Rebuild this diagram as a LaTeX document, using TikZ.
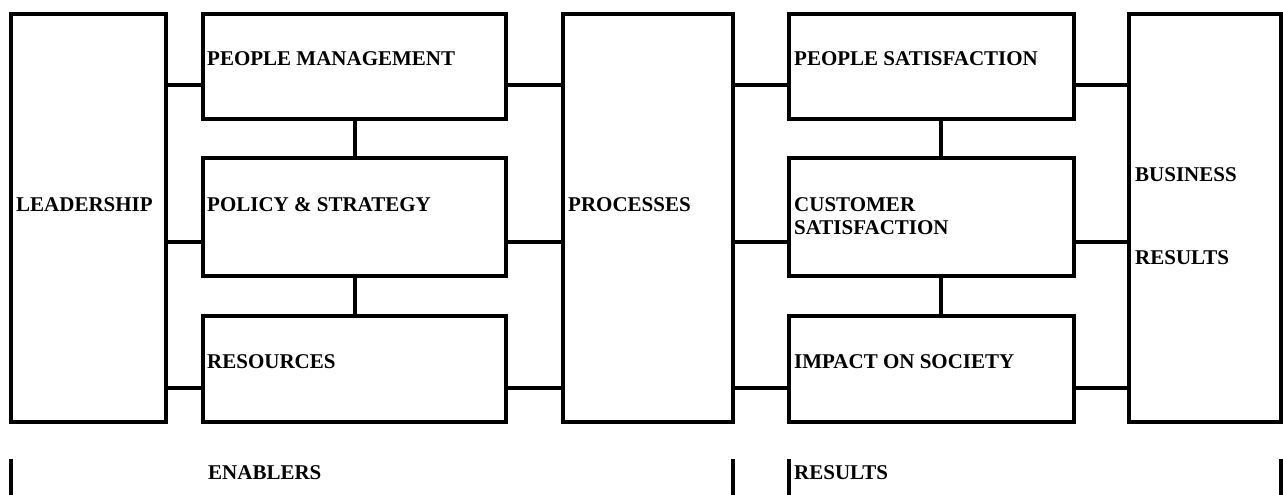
\documentclass[tikz,border=0pt]{standalone}
\usepackage{fontspec}
\setmainfont{Liberation Serif}
\begin{document}
\begin{tikzpicture}[x=1pt,y=-1pt,
  box/.style={draw=black, line width=4pt, rectangle, inner sep=0pt, outer sep=0pt, anchor=north west},
  lbl/.style={anchor=base west, inner sep=0pt, font=\fontsize{21}{23.5}\selectfont\bfseries, align=left},
  wire/.style={line width=4pt, black},
  bar/.style={line width=4pt, black}]
\useasboundingbox (0,0) rectangle (1283,495);
% boxes
\node[box, minimum width=155, minimum height=408] (lead) at (11,14) {};
\node[box, minimum width=303, minimum height=105] (pm)  at (203,14) {};
\node[box, minimum width=303, minimum height=118] (pol) at (203,158) {};
\node[box, minimum width=303, minimum height=106] (res) at (203,316) {};
\node[box, minimum width=170, minimum height=408] (proc) at (563,14) {};
\node[box, minimum width=285, minimum height=105] (ps)  at (789,14) {};
\node[box, minimum width=285, minimum height=118] (cs)  at (789,158) {};
\node[box, minimum width=285, minimum height=106] (ios) at (789,316) {};
\node[box, minimum width=152, minimum height=408] (br)  at (1129,14) {};
% labels
\node[lbl] (tlead) at (16,211) {LEADERSHIP};
\node[lbl] (tpm)   at (207,66) {PEOPLE MANAGEMENT};
\node[lbl] (tpol)  at (207,211) {POLICY \& STRATEGY};
\node[lbl] (tres)  at (207,368) {RESOURCES};
\node[lbl] (tproc) at (568,211) {PROCESSES};
\node[lbl] (tps)   at (794,66) {PEOPLE SATISFACTION};
\node[lbl] (tcs1)  at (794,211) {CUSTOMER};
\node[lbl] (tcs2)  at (794,234) {SATISFACTION};
\node[lbl] (tios)  at (794,368) {IMPACT ON SOCIETY};
\node[lbl] (tbr1)  at (1135,181) {BUSINESS};
\node[lbl] (tbr2)  at (1135,264) {RESULTS};
\node[lbl] (tena)  at (208,479) {ENABLERS};
\node[lbl] (tresu) at (794,479) {RESULTS};
% row levels and column positions
\coordinate (r1) at (0,85);
\coordinate (r2) at (0,242);
\coordinate (r3) at (0,388);
\coordinate (cl) at (355,0);
\coordinate (cr) at (941,0);
% horizontal connectors
\draw[wire] (lead.east |- r1) -- (pm.west |- r1);
\draw[wire] (lead.east |- r2) -- (pol.west |- r2);
\draw[wire] (lead.east |- r3) -- (res.west |- r3);
\draw[wire] (pm.east |- r1) -- (proc.west |- r1);
\draw[wire] (pol.east |- r2) -- (proc.west |- r2);
\draw[wire] (res.east |- r3) -- (proc.west |- r3);
\draw[wire] (proc.east |- r1) -- (ps.west |- r1);
\draw[wire] (proc.east |- r2) -- (cs.west |- r2);
\draw[wire] (proc.east |- r3) -- (ios.west |- r3);
\draw[wire] (ps.east |- r1) -- (br.west |- r1);
\draw[wire] (cs.east |- r2) -- (br.west |- r2);
\draw[wire] (ios.east |- r3) -- (br.west |- r3);
% vertical connectors
\draw[wire] (pm.south -| cl) -- (pol.north -| cl);
\draw[wire] (pol.south -| cl) -- (res.north -| cl);
\draw[wire] (ps.south -| cr) -- (cs.north -| cr);
\draw[wire] (cs.south -| cr) -- (ios.north -| cr);
% bottom bars
\draw[bar] (11,459) -- (11,495);
\draw[bar] (733,459) -- (733,495);
\draw[bar] (789,459) -- (789,495);
\draw[bar] (1281,459) -- (1281,495);
\end{tikzpicture}
\end{document}
